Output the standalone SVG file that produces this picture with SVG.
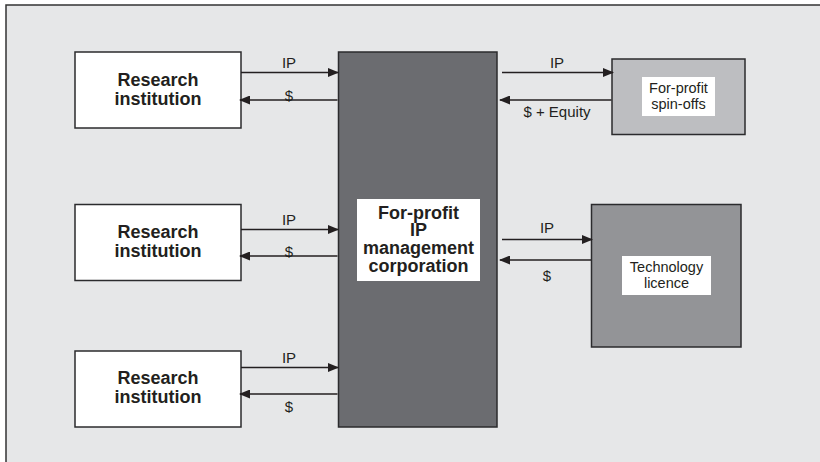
<svg xmlns="http://www.w3.org/2000/svg" width="820" height="462" viewBox="0 0 820 462">
<style>
.frame{fill:#e6e7e8;stroke:#333;stroke-width:1.5}
.box{stroke:#2b2b2d;stroke-width:1.5}
.white{fill:#fff}
.bold{font-family:"Liberation Sans",Arial,sans-serif;font-weight:bold;font-size:18px;fill:#231f20;text-anchor:middle}
.reg{font-family:"Liberation Sans",Arial,sans-serif;font-size:14.5px;fill:#231f20;text-anchor:middle}
.lab{font-family:"Liberation Sans",Arial,sans-serif;font-size:15px;fill:#231f20;text-anchor:middle}
.arr{stroke:#231f20;stroke-width:1.5;fill:none;marker-end:url(#ah)}
</style>
<defs>
<marker id="ah" markerUnits="userSpaceOnUse" markerWidth="11" markerHeight="9" refX="10" refY="4.5" orient="auto">
<path d="M0,0 L11,4.5 L0,9 z" fill="#231f20"/>
</marker>
</defs>
<rect class="frame" x="6" y="5" width="840" height="480"/>

<g id="research1">
<rect class="box white" x="75" y="52" width="166" height="76"/>
<text class="bold" x="158" y="86">Research</text>
<text class="bold" x="158" y="104.5">institution</text>
</g>
<g id="research2">
<rect class="box white" x="75" y="204.5" width="166" height="76"/>
<text class="bold" x="158" y="238">Research</text>
<text class="bold" x="158" y="256.5">institution</text>
</g>
<g id="research3">
<rect class="box white" x="75" y="351" width="166" height="76"/>
<text class="bold" x="158" y="384">Research</text>
<text class="bold" x="158" y="402.5">institution</text>
</g>
<g id="ipcorp">
<rect class="box" fill="#6b6c70" x="338.5" y="52" width="158.5" height="375"/>
<rect class="white" x="357" y="199" width="123" height="82"/>
<text class="bold" x="418.5" y="218.5">For-profit</text>
<text class="bold" x="418.5" y="236">IP</text>
<text class="bold" x="418.5" y="254">management</text>
<text class="bold" x="418.5" y="272">corporation</text>
</g>
<g id="spinoffs">
<rect class="box" fill="#bdbec1" x="612" y="59" width="133" height="75.5"/>
<rect class="white" x="642" y="77" width="73" height="39"/>
<text class="reg" x="678.5" y="93">For-profit</text>
<text class="reg" x="678.5" y="109">spin-offs</text>
</g>
<g id="licence">
<rect class="box" fill="#939497" x="591.5" y="204.5" width="149.5" height="142.5"/>
<rect class="white" x="622" y="256" width="89" height="39"/>
<text class="reg" x="666.5" y="272" font-size="14px">Technology</text>
<text class="reg" x="666.5" y="288">licence</text>
</g>

<g id="connectors">
<line class="arr" x1="241" y1="72.5" x2="338" y2="72.5"/>
<line class="arr" x1="337.5" y1="100" x2="240" y2="100"/>
<line class="arr" x1="241" y1="229.5" x2="338" y2="229.5"/>
<line class="arr" x1="337.5" y1="256" x2="240" y2="256"/>
<line class="arr" x1="241" y1="367.5" x2="338" y2="367.5"/>
<line class="arr" x1="337.5" y1="394" x2="240" y2="394"/>
<line class="arr" x1="502" y1="72.5" x2="613" y2="72.5"/>
<line class="arr" x1="611.5" y1="100" x2="500" y2="100"/>
<line class="arr" x1="502" y1="239.5" x2="592" y2="239.5"/>
<line class="arr" x1="591" y1="260" x2="500" y2="260"/>
<text class="lab" x="289" y="68">IP</text>
<text class="lab" x="289" y="100.5">$</text>
<text class="lab" x="289" y="225">IP</text>
<text class="lab" x="289" y="257">$</text>
<text class="lab" x="289" y="363">IP</text>
<text class="lab" x="289" y="412">$</text>
<text class="lab" x="557" y="68">IP</text>
<text class="lab" x="557" y="117">$ + Equity</text>
<text class="lab" x="547" y="233">IP</text>
<text class="lab" x="547" y="281">$</text>
</g>
</svg>
